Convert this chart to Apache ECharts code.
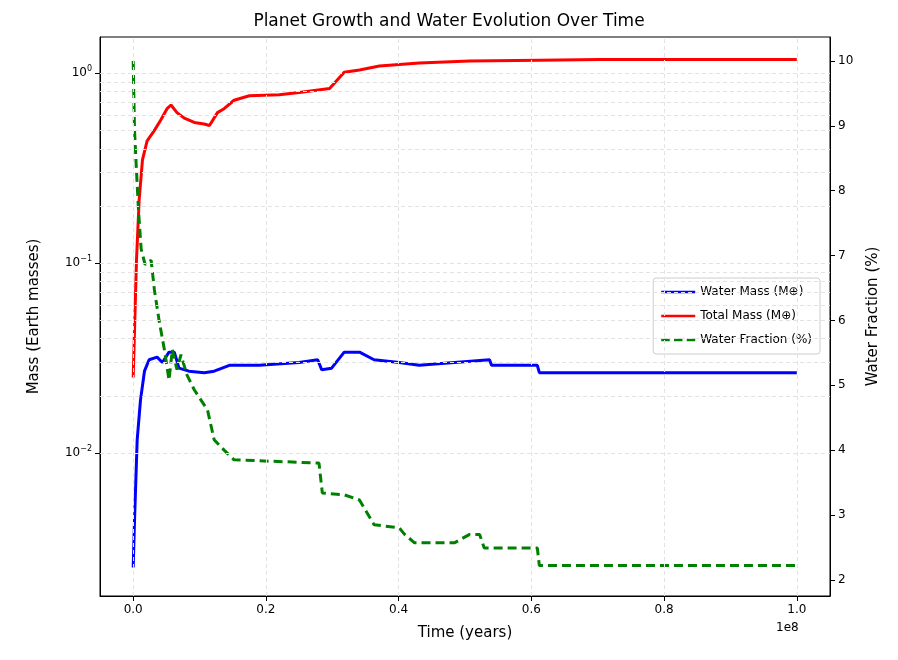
<!DOCTYPE html>
<html>
<head>
<meta charset="utf-8">
<script src="https://cdn.jsdelivr.net/npm/echarts@6/dist/echarts.min.js"></script>
<style>html,body{margin:0;padding:0;background:#fff}#main{width:898px;height:660px}</style>
</head>
<body>
<div id="main"></div>
<script>
// time in units of 1e8 years
var totalMass = [
  [0.000,0.025],[0.002,0.044],[0.005,0.104],[0.009,0.215],[0.014,0.35],[0.021,0.44],[0.032,0.50],
  [0.042,0.57],[0.051,0.65],[0.057,0.68],[0.066,0.62],[0.077,0.58],[0.092,0.55],[0.107,0.54],
  [0.115,0.53],[0.127,0.62],[0.137,0.65],[0.152,0.72],[0.175,0.76],[0.220,0.77],[0.250,0.79],
  [0.296,0.83],[0.299,0.83],[0.318,1.01],[0.341,1.04],[0.371,1.09],[0.431,1.13],[0.507,1.16],
  [0.612,1.17],[0.703,1.18],[1.000,1.18]
];
var waterMass = [
  [0.000,0.0025],[0.002,0.0044],[0.006,0.0117],[0.011,0.019],[0.017,0.027],[0.024,0.031],
  [0.036,0.032],[0.044,0.030],[0.054,0.034],[0.062,0.034],[0.069,0.028],[0.084,0.027],
  [0.107,0.0265],[0.122,0.027],[0.145,0.029],[0.190,0.029],[0.250,0.030],[0.278,0.031],
  [0.284,0.0275],[0.299,0.028],[0.318,0.034],[0.341,0.034],[0.363,0.031],[0.401,0.030],
  [0.431,0.029],[0.537,0.031],[0.540,0.029],[0.609,0.029],[0.612,0.0265],[1.000,0.0265]
];
var waterFraction = [
  [0.000,10.0],[0.002,8.94],[0.005,8.3],[0.008,7.7],[0.012,7.1],[0.018,6.86],[0.027,6.93],
  [0.032,6.47],[0.039,6.0],[0.047,5.55],[0.054,5.08],[0.059,5.55],[0.066,5.24],[0.072,5.47],
  [0.081,5.16],[0.092,4.93],[0.112,4.62],[0.122,4.16],[0.137,4.0],[0.152,3.85],[0.280,3.8],
  [0.285,3.34],[0.318,3.31],[0.341,3.23],[0.363,2.85],[0.401,2.8],[0.409,2.7],[0.424,2.57],
  [0.484,2.57],[0.507,2.7],[0.522,2.7],[0.529,2.49],[0.609,2.49],[0.612,2.22],[1.000,2.22]
];
var xTicks = [0, 0.2, 0.4, 0.6, 0.8, 1.0];
var massTicks = [0.01, 0.1, 1];
var fracTicks = [2,3,4,5,6,7,8,9,10];
var minorMass = [0.002,0.003,0.004,0.005,0.006,0.007,0.008,0.009,0.02,0.03,0.04,0.05,0.06,0.07,0.08,0.09,
  0.2,0.3,0.4,0.5,0.6,0.7,0.8,0.9];

var grid = {color:'#e3e3e3', type:[4,3], width:1};
var font = 'DejaVu Sans';
var solidIcon = 'path://M0,0L40,0L40,3L0,3Z';
var dashIcon = 'path://M0,0L10,0L10,3L0,3ZM15,0L25,0L25,3L15,3ZM30,0L40,0L40,3L30,3Z';
var chart = echarts.init(document.getElementById('main'));
chart.setOption({
  animation:false,
  textStyle:{fontFamily:font},
  title:{text:'Planet Growth and Water Evolution Over Time', left:'center', top:8,
    textStyle:{fontSize:17, fontWeight:'normal', color:'#000', fontFamily:font}},
  grid:{left:100, right:68, top:37, bottom:64, show:true, borderColor:'#000', borderWidth:1},
  legend:{right:78, top:278, orient:'vertical', itemWidth:34, itemHeight:3, itemGap:12,
    backgroundColor:'#fff', borderColor:'#ccc', borderWidth:1, borderRadius:3, padding:[8,8],
    textStyle:{fontSize:12, color:'#000'},
    data:[{name:'Water Mass (M⊕)', icon:solidIcon},{name:'Total Mass (M⊕)', icon:solidIcon},
      {name:'Water Fraction (%)', icon:dashIcon}]},
  graphic:[{type:'text', left:776, top:622, style:{text:'1e8', fontSize:12, fill:'#000', fontFamily:font}}],
  xAxis:{type:'value', min:-0.05, max:1.05, name:'Time (years)', nameLocation:'middle', nameGap:30,
    nameTextStyle:{fontSize:15, color:'#000'},
    axisLine:{onZero:false, lineStyle:{color:'#000'}},
    axisTick:{customValues:xTicks, lineStyle:{color:'#000'}},
    axisLabel:{customValues:xTicks, color:'#000', fontSize:12, formatter:function(v){return v.toFixed(1);}},
    splitLine:{show:false}},
  yAxis:[
    {type:'log', logBase:10, min:0.00177, max:1.55, name:'Mass (Earth masses)', nameLocation:'middle', nameGap:58,
      nameTextStyle:{fontSize:15, color:'#000'},
      axisLine:{show:true, onZero:false, lineStyle:{color:'#000'}},
      axisTick:{customValues:massTicks, lineStyle:{color:'#000'}},
      axisLabel:{customValues:massTicks, color:'#000', formatter:function(v){
          var e = Math.round(Math.log10(v)); return '{b|10}{s|'+(e<0?'−'+(-e):e)+'}';},
        rich:{b:{fontSize:12,color:'#000'}, s:{fontSize:8,color:'#000',verticalAlign:'top',padding:[0,0,8,0]}}},
      splitLine:{show:false}},
    {type:'value', min:1.75, max:10.37, name:'Water Fraction (%)', nameLocation:'middle', nameGap:36,
      nameTextStyle:{fontSize:15, color:'#000'},
      axisLine:{show:true, onZero:false, lineStyle:{color:'#000'}},
      axisTick:{customValues:fracTicks, lineStyle:{color:'#000'}},
      axisLabel:{customValues:fracTicks, color:'#000', fontSize:12},
      splitLine:{show:false}}
  ],
  series:[
    {name:'Water Mass (M⊕)', type:'line', yAxisIndex:0, data:waterMass, symbol:'none',
      lineStyle:{color:'#0000ff', width:3}, itemStyle:{color:'#0000ff'}, z:3,
      markLine:{silent:true, symbol:'none', label:{show:false}, lineStyle:grid,
        data:minorMass.concat(massTicks).map(function(v){return {yAxis:v};})
          .concat(xTicks.map(function(v){return {xAxis:v};}))}},
    {name:'Total Mass (M⊕)', type:'line', yAxisIndex:0, data:totalMass, symbol:'none',
      lineStyle:{color:'#ff0000', width:3}, itemStyle:{color:'#ff0000'}, z:3},
    {name:'Water Fraction (%)', type:'line', yAxisIndex:1, data:waterFraction, symbol:'none',
      lineStyle:{color:'#008000', width:3, type:[9,5]}, itemStyle:{color:'#008000'}, z:4}
  ]
});
</script>
</body>
</html>
